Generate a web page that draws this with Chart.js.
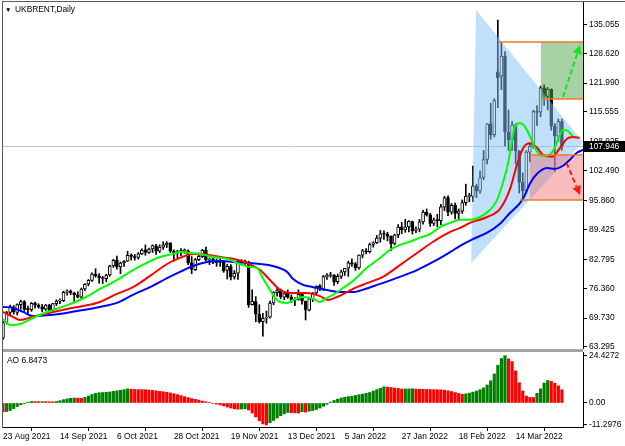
<!DOCTYPE html>
<html><head><meta charset="utf-8">
<script src="https://cdn.jsdelivr.net/npm/chart.js"></script>
<style>
html,body{margin:0;padding:0;background:#fff;width:625px;height:446px;overflow:hidden;font-family:"Liberation Sans",Arial,sans-serif;}
#cMain{position:absolute;left:0;top:0;}
#cAO{position:absolute;left:0;top:349px;}
#sep{position:absolute;left:2px;top:349px;width:581px;height:3px;background:#a4a4a4;}
#frameL{position:absolute;left:2px;top:1px;width:1px;height:427px;background:#5a5a5a;}
#frameT{position:absolute;left:2px;top:1px;width:623px;height:1px;background:#5a5a5a;}
#title{position:absolute;left:5px;top:4px;font-size:8.4px;line-height:11px;color:#000;white-space:nowrap;}
#title .tri{font-size:6.5px;display:inline-block;width:10px;}
#aolabel{position:absolute;left:7px;top:355px;font-size:8.4px;line-height:11px;color:#000;white-space:nowrap;}
</style></head>
<body>
<canvas id="cMain" width="625" height="352"></canvas>
<canvas id="cAO" width="625" height="97"></canvas>
<div id="sep"></div><div id="frameL"></div><div id="frameT"></div>
<div id="title"><span class="tri">▼</span>UKBRENT,Daily</div>
<div id="aolabel">AO 6.8473</div>
<script>
// ---------- data (bar index 0 = 23 Aug 2021) ----------
const tickIndex = [0, 16, 32, 48, 64, 80, 96, 112, 128, 144];
const tickLabels = ["23 Aug 2021","14 Sep 2021","6 Oct 2021","28 Oct 2021","19 Nov 2021","13 Dec 2021","5 Jan 2022","27 Jan 2022","18 Feb 2022","14 Mar 2022"];
const priceTicks = [135.055,128.620,121.990,115.555,108.925,102.490,95.860,89.425,82.795,76.360,69.730,63.295];
const aoTicks = [24.4272, 0, -11.2976];
const aoTickLabels = ["24.4272","0.00","-11.2976"];
const currentPrice = 107.946;

const open = [65.3,68.8,71.0,72.2,71.0,72.7,73.4,71.6,71.6,73.0,72.6,72.2,71.7,72.6,71.5,72.9,73.5,73.6,75.5,75.7,
75.3,74.9,74.4,76.2,77.3,78.1,79.5,79.1,78.6,78.5,79.3,81.3,82.6,81.1,82.0,82.4,83.7,83.4,83.2,84.0,
84.9,84.3,85.1,85.8,84.6,85.5,86.0,86.4,84.6,84.3,84.4,84.7,84.7,82.0,80.5,82.7,83.4,84.8,82.6,82.9,
82.2,82.1,82.4,80.3,81.2,78.9,79.7,82.3,82.2,82.2,72.7,73.4,70.6,68.9,69.7,69.9,73.1,75.4,75.8,74.4,
75.2,74.4,73.7,73.9,75.0,73.5,71.5,74.0,75.3,76.9,76.1,78.9,79.2,79.3,77.8,79.0,80.0,80.8,82.0,81.8,
80.9,83.7,84.7,84.5,86.1,86.5,87.5,88.4,88.4,87.9,86.3,88.2,90.0,89.3,90.0,91.2,89.2,89.5,91.1,93.3,
92.7,90.8,91.6,91.4,94.4,96.5,93.3,94.8,93.0,93.5,95.4,96.8,96.8,99.1,98.0,101.0,105.0,112.9,110.5,124.5,
123.5,128.0,111.1,109.3,112.7,106.9,99.9,98.0,106.6,107.9,115.6,115.5,120.9,119.0,120.6,112.5,110.2,113.4];
const high = [69.0,71.2,72.6,72.5,72.9,73.7,73.6,72.4,73.2,73.3,72.9,72.8,72.8,72.8,73.0,73.8,74.0,75.7,76.0,76.0,
75.5,75.6,76.4,77.4,78.3,79.8,80.7,79.6,79.0,79.5,81.5,82.8,83.5,82.2,82.5,84.6,84.0,83.9,84.3,85.1,
86.0,85.3,86.0,86.1,86.0,86.7,86.7,86.5,84.9,84.8,85.2,85.1,84.9,83.4,83.0,84.2,85.0,85.5,83.1,83.1,
82.9,83.0,82.5,81.7,81.6,80.3,82.4,82.7,82.6,82.4,76.0,74.5,72.7,70.8,71.3,73.5,75.6,76.3,76.2,75.5,
76.0,74.9,74.3,76.0,75.2,73.5,74.1,75.4,76.9,77.2,79.2,79.6,79.9,79.4,79.5,80.4,80.8,82.4,82.9,82.1,
83.8,85.0,85.2,86.4,86.7,88.1,89.2,89.1,88.8,88.0,88.4,90.5,91.0,91.7,91.4,91.3,90.0,91.7,93.7,94.0,
93.0,92.0,92.8,95.0,96.8,96.9,95.2,95.3,94.0,96.0,99.5,97.5,103.5,99.5,102.4,107.0,113.0,117.5,118.5,136.0,
131.1,129.0,116.0,113.5,113.0,107.0,102.0,107.0,108.5,116.0,117.0,121.3,121.6,121.0,120.7,113.0,114.0,114.0];
const low = [65.0,68.4,70.5,70.6,70.4,71.7,71.2,70.5,71.2,71.9,71.9,71.1,71.4,71.0,71.2,72.5,72.9,73.4,74.8,74.9,
73.3,74.2,74.1,75.8,76.9,77.9,78.8,77.5,77.4,77.8,79.0,81.0,80.6,79.6,81.2,82.3,82.6,82.6,82.8,83.8,
83.7,84.1,84.3,83.9,84.3,85.0,85.4,84.3,82.4,83.1,83.6,84.1,81.6,79.6,80.3,82.5,83.2,82.4,81.6,81.8,
81.2,81.2,79.9,78.4,78.2,78.4,78.3,81.5,81.6,72.1,72.6,68.9,68.6,65.7,68.6,69.7,72.7,74.6,74.0,73.8,
74.1,73.2,72.5,73.7,72.8,69.3,71.3,73.4,75.0,75.8,75.9,78.3,78.8,77.0,77.4,78.5,79.2,79.0,81.2,80.3,
80.6,83.1,84.0,84.2,85.5,86.3,86.6,87.2,86.9,84.7,86.0,87.6,88.5,88.8,88.9,88.4,88.7,88.9,90.6,92.4,
90.1,90.3,90.0,90.5,93.6,92.5,92.8,91.8,91.5,93.0,94.8,95.6,95.6,96.5,97.5,100.5,104.0,109.5,110.0,116.5,
120.5,108.0,107.0,107.0,104.0,97.5,96.0,97.5,104.5,107.5,112.5,114.5,117.0,116.0,111.5,102.3,109.0,107.0];
const close = [68.75,71.05,72.25,71.07,72.70,73.41,71.63,71.59,73.03,72.61,72.22,71.69,72.60,71.45,72.92,73.51,73.60,75.46,75.67,75.34,
74.92,74.36,76.19,77.25,78.09,79.53,79.09,78.64,78.52,79.28,81.26,82.56,81.08,81.95,82.39,83.65,83.42,83.18,84.00,84.86,
84.33,85.08,85.82,84.61,85.53,85.99,86.40,84.58,84.32,84.38,84.71,84.72,81.99,80.54,82.74,83.43,84.78,82.64,82.87,82.17,
82.05,82.43,80.28,81.24,78.89,79.70,82.31,82.25,82.22,72.72,73.44,70.57,68.87,69.67,69.88,73.08,75.44,75.82,74.42,75.15,
74.39,73.70,73.88,75.02,73.52,71.52,73.98,75.29,76.85,76.14,78.94,79.23,79.32,77.78,78.98,80.00,80.80,81.99,81.75,80.87,
83.72,84.67,84.47,86.06,86.48,87.51,88.44,88.38,87.89,86.27,88.20,89.96,89.34,90.03,91.21,89.16,89.47,91.11,93.27,92.69,
90.78,91.55,91.41,94.44,96.48,93.28,94.81,92.97,93.54,95.39,96.84,96.84,99.08,97.93,100.99,104.97,112.93,110.46,118.11,123.21,
127.98,111.14,109.33,112.67,106.90,99.91,98.02,106.64,107.93,115.62,115.48,120.90,119.03,120.65,112.48,110.23,113.45,107.946];

const aoValues = [-4.6,-4.4,-3.9,-2.9,-1.8,-0.9,-0.2,0.4,0.8,0.75,0.7,0.72,0.68,0.65,0.6,0.8,1.2,1.7,2.1,2.4,
2.6,2.5,2.4,2.9,3.6,4.4,5.0,5.3,5.4,5.5,5.7,6.0,6.3,6.6,6.9,7.3,7.1,7.0,6.95,6.9,
6.85,6.7,6.5,6.3,6.0,5.8,5.5,5.2,4.8,4.3,3.8,3.3,2.8,2.3,1.9,1.5,1.0,0.6,0.2,-0.2,
-0.6,-1.0,-1.5,-2.1,-2.6,-3.0,-3.2,-3.1,-3.0,-3.6,-5.2,-7.2,-9.2,-10.8,-11.2976,-10.2,-9.0,-7.8,-6.6,-5.6,
-4.9,-5.0,-5.1,-5.2,-4.5,-4.7,-4.2,-3.9,-3.4,-2.6,-1.7,-0.7,0.5,1.3,2.0,2.6,3.0,3.3,3.5,3.9,
4.3,4.6,5.0,5.4,6.2,6.9,7.6,8.4,8.2,8.0,7.7,7.5,7.2,7.25,7.3,7.35,7.2,7.1,7.05,7.0,
6.95,6.9,6.85,6.8,6.6,6.3,5.9,5.4,4.9,4.5,4.7,5.1,5.6,6.2,6.9,7.8,9.3,11.5,15.0,19.5,
23.0,24.4272,22.8,21.4,16.6,10.5,6.2,3.6,2.9,2.8,5.0,7.3,10.3,11.6,11.2,10.2,8.9,6.8473];

// Alligator lines (bar index, price)
const lipsX = [0,2,4.8,8.4,13.2,18,21.6,24.4,27.2,30,32.9,36.5,40.4,44.1,47.8,49.7,52.5,55.3,59,62.9,66.6,69.4,71.3,73,75,76.4,77.8,79.8,81.5,84.3,87.1,89,91,92.7,95.5,98.3,102.2,105.9,108.7,111.5,114.3,117.1,119.9,122.8,125.6,128.4,131.2,134,136.8,138.8,140.4,141.9,143,143.8,145.2,146.6,148,149.4,150.8,152.8,154.5,155.9,157.3,158.7,160];
const lipsY = [69.5,68.2,68.4,69.75,71.3,72.6,73.75,74.9,76.2,77.3,78.6,80.4,82.0,83.3,84.0,84.4,84.2,84.0,83.3,82.9,81.75,81.1,80.9,78.6,76.0,74.2,73.3,73.1,73.75,74.4,74.0,73.3,74.2,74.9,76.4,78.0,80.9,83.1,84.9,86.0,86.7,87.6,88.4,90.0,90.9,91.6,91.6,92.2,93.8,96.0,99.8,104.3,109.4,112.3,113.1,112.3,110.2,107.6,106.0,105.8,106.9,109.4,111.6,111.3,110.2];
const teethX = [0,2.8,4.8,8.4,13.2,18,22.5,27.2,32,36.5,41.3,46.1,49.7,53.4,57.3,61,64.6,68.5,72.2,75,77.8,80.6,85.4,89,91.3,93.8,96.6,99.4,102.2,106.7,111.5,116.3,120.8,125.6,128.4,131.2,136,139.6,142.4,144.4,146.1,148,150,151.7,154.2,156.5,158.4,160.1,162];
const teethY = [71.1,70.0,69.3,70.0,70.9,71.75,72.4,73.3,75.1,76.6,79.1,81.75,83.1,84.0,83.8,83.3,82.9,82.0,80.4,78.2,76.0,75.3,75.3,74.6,73.75,74.4,75.5,76.6,77.5,78.9,81.5,84.2,86.7,88.9,89.8,90.9,92.2,94.0,98.4,103.9,107.5,108.6,107.6,106.0,105.6,107.6,109.6,110.0,109.8];
const jawX = [0,2.8,5.6,8.4,13.2,18,22.5,27.2,32,36.5,41.3,46.1,49.7,53.4,57.3,61,64.6,68.5,72.2,75.8,79.8,81.5,84.3,87.1,91,94.7,98.3,101.7,105.1,111.5,116.3,120.8,125.6,128.4,132,136,139.6,142.4,145.2,146.6,148,150,152.8,155,157.3,159.3,161.2,162.9,165];
const jawY = [72.2,72.0,71.1,70.2,70.4,70.9,71.5,72.2,73.1,74.9,76.6,78.6,80.0,81.3,82.2,82.4,82.2,82.0,81.75,81.3,80.0,78.4,77.1,76.6,75.95,75.5,75.5,76.2,77.1,78.9,80.4,82.2,84.4,85.8,87.3,88.7,90.7,93.1,95.3,97.1,99.6,101.8,103.1,102.9,103.6,105.0,106.5,107.1,107.8];

// drawn objects, in (bar index, price)
const triI = [132.9, 162.9, 131.5];
const triP = [138.25, 108.9, 81.98];
const greenBoxI = [151.1, 164], greenBoxP = [118.45, 131.13];
const redBoxI = [148.0, 164], redBoxP = [96.0, 106.0];
const levelP = [131.13, 118.45, 106.0, 96.0];
const levelStartI = [139.3, 151.1, 148.0, 145.2];
const upArrowI = [157.3, 162.1], upArrowP = [118.9, 130.46];
const downArrowI = [158.3, 162.1], downArrowP = [104.2, 97.1];

// ---------- view ----------
const X_MIN = -0.28, X_MAX = 162.92;
const Y_MIN = 63.07, Y_MAX = 140.01;
const AO_MIN = -12.40, AO_MAX = 26.34;

Chart.defaults.font.family = '"Liberation Sans", Arial, sans-serif';
Chart.defaults.font.size = 8.4;
Chart.defaults.color = '#000';

const idx = close.map((c, i) => i);

function arrow(ctx, x0, y0, x1, y1, color) {
  const a = Math.atan2(y1 - y0, x1 - x0), head = 9, hw = 4.5;
  const bx = x1 - head * Math.cos(a), by = y1 - head * Math.sin(a);
  ctx.strokeStyle = color; ctx.lineWidth = 2; ctx.setLineDash([5, 3]);
  ctx.beginPath(); ctx.moveTo(x0, y0); ctx.lineTo(bx, by); ctx.stroke();
  ctx.setLineDash([]); ctx.fillStyle = color;
  ctx.beginPath(); ctx.moveTo(x1, y1);
  ctx.lineTo(bx + hw * Math.sin(a), by - hw * Math.cos(a));
  ctx.lineTo(bx - hw * Math.sin(a), by + hw * Math.cos(a));
  ctx.closePath(); ctx.fill();
}

const drawings = {
  id: 'drawings',
  beforeDatasetsDraw(chart) {
    const {ctx, chartArea: a, scales: {y}} = chart;
    const py = Math.round(y.getPixelForValue(currentPrice)) + 0.5;
    ctx.save(); ctx.strokeStyle = '#c4c4c4'; ctx.lineWidth = 1;
    ctx.beginPath(); ctx.moveTo(a.left, py); ctx.lineTo(a.right, py); ctx.stroke(); ctx.restore();
  },
  afterDatasetDraw(chart, args) {
    if (chart.data.datasets[args.index].label !== 'bodies') return;
    const {ctx, chartArea: a, scales: {x, y}} = chart;
    ctx.save();
    ctx.beginPath(); ctx.rect(a.left, a.top, a.right - a.left, a.bottom - a.top); ctx.clip();
    ctx.fillStyle = 'rgba(130,192,245,0.5)';
    ctx.beginPath();
    triI.forEach((v, k) => { const X = x.getPixelForValue(v), Y = y.getPixelForValue(triP[k]); k ? ctx.lineTo(X, Y) : ctx.moveTo(X, Y); });
    ctx.closePath(); ctx.fill();
    const box = (I, P, col) => {
      const x0 = x.getPixelForValue(I[0]), x1 = x.getPixelForValue(I[1]);
      const y0 = y.getPixelForValue(P[1]), y1 = y.getPixelForValue(P[0]);
      ctx.fillStyle = col; ctx.fillRect(x0, y0, x1 - x0, y1 - y0);
    };
    box(redBoxI, redBoxP, 'rgba(240,110,110,0.45)');
    box(greenBoxI, greenBoxP, 'rgba(78,168,78,0.5)');
    ctx.restore();
  },
  afterDatasetsDraw(chart) {
    const {ctx, chartArea: a, scales: {x, y}} = chart;
    ctx.save();
    ctx.beginPath(); ctx.rect(a.left, a.top, a.right - a.left, a.bottom - a.top); ctx.clip();
    ctx.strokeStyle = '#f07a22'; ctx.lineWidth = 1.5;
    levelP.forEach((p, k) => {
      const py = y.getPixelForValue(p);
      ctx.beginPath(); ctx.moveTo(x.getPixelForValue(levelStartI[k]), py); ctx.lineTo(a.right, py); ctx.stroke();
    });
    arrow(ctx, x.getPixelForValue(upArrowI[0]), y.getPixelForValue(upArrowP[0]), x.getPixelForValue(upArrowI[1]), y.getPixelForValue(upArrowP[1]), '#19e019');
    arrow(ctx, x.getPixelForValue(downArrowI[0]), y.getPixelForValue(downArrowP[0]), x.getPixelForValue(downArrowI[1]), y.getPixelForValue(downArrowP[1]), '#ff1a1a');
    ctx.restore();
  },
  afterDraw(chart) {
    const {ctx, chartArea: a, scales: {y}} = chart;
    const py = y.getPixelForValue(currentPrice);
    ctx.save();
    ctx.fillStyle = '#000';
    ctx.fillRect(a.right + 1, Math.round(py) - 5, chart.width - a.right - 1, 11);
    ctx.fillStyle = '#fff'; ctx.font = '8.4px "Liberation Sans", Arial, sans-serif';
    ctx.textBaseline = 'middle'; ctx.textAlign = 'left';
    ctx.fillText(currentPrice.toFixed(3), a.right + 6, Math.round(py) + 0.5);
    ctx.restore();
  }
};

const lineDs = (label, X, Y, color, order) => ({
  type: 'line', label, data: X.map((v, k) => ({x: v, y: Y[k]})),
  borderColor: color, borderWidth: 2, pointRadius: 0, cubicInterpolationMode: 'monotone', order, clip: 0
});

new Chart(document.getElementById('cMain'), {
  type: 'bar',
  data: {datasets: [
    lineDs('lips', lipsX, lipsY, '#00ff00', 1),
    lineDs('teeth', teethX, teethY, '#ff0000', 1.5),
    lineDs('jaw', jawX, jawY, '#0000ff', 1.8),
    {type: 'bar', label: 'bodies', data: idx.map(i => ({x: i, y: [open[i], close[i]]})),
     backgroundColor: idx.map(i => close[i] >= open[i] ? '#ffffff' : '#000000'),
     borderColor: '#000', borderWidth: 1, borderSkipped: false, barThickness: 3, minBarLength: 1, grouped: false, order: 2},
    {type: 'bar', label: 'wicks', data: idx.map(i => ({x: i, y: [low[i], high[i]]})),
     backgroundColor: '#000', barThickness: 1, minBarLength: 1, grouped: false, order: 3}
  ]},
  options: {
    responsive: false, animation: false, devicePixelRatio: 1,
    layout: {padding: {left: 2, right: 0, top: 2, bottom: 4}},
    plugins: {legend: {display: false}, tooltip: {enabled: false}},
    scales: {
      x: {type: 'linear', min: X_MIN, max: X_MAX, offset: false, display: false},
      y: {type: 'linear', position: 'right', min: Y_MIN, max: Y_MAX,
          afterBuildTicks(s) { s.ticks = priceTicks.map(v => ({value: v})); },
          afterFit(s) { s.width = 42; s.paddingTop = 0; s.paddingBottom = 0; },
          ticks: {callback: (v, k) => priceTicks[k].toFixed(3), color: '#000', padding: 2, autoSkip: false},
          grid: {drawOnChartArea: false, drawTicks: true, tickLength: 4, tickColor: '#000', color: '#000'},
          border: {display: true, color: '#000', width: 1}}
    }
  },
  plugins: [drawings]
});

new Chart(document.getElementById('cAO'), {
  type: 'bar',
  data: {datasets: [{
    label: 'AO', data: aoValues.map((v, i) => ({x: i, y: v})),
    backgroundColor: aoValues.map((v, i) => (i > 0 && v > aoValues[i - 1]) ? '#008000' : '#ff0000'),
    barThickness: 2.5, grouped: false, borderWidth: 0
  }]},
  options: {
    responsive: false, animation: false, devicePixelRatio: 1,
    layout: {padding: {left: 2, right: 0, top: 3, bottom: 0}},
    plugins: {legend: {display: false}, tooltip: {enabled: false}},
    scales: {
      x: {type: 'linear', min: X_MIN, max: X_MAX, offset: false, position: 'bottom',
          afterBuildTicks(s) { s.ticks = tickIndex.map(v => ({value: v})); },
          afterFit(s) { s.height = 19; s.paddingLeft = 0; s.paddingRight = 0; },
          ticks: {callback: (v, k) => tickLabels[k], align: 'start', autoSkip: false, maxRotation: 0, minRotation: 0, color: '#000', padding: 1},
          grid: {drawOnChartArea: false, tickLength: 4, tickColor: '#000', color: '#000'},
          border: {display: true, color: '#000', width: 1}},
      y: {type: 'linear', position: 'right', min: AO_MIN, max: AO_MAX,
          afterBuildTicks(s) { s.ticks = aoTicks.map(v => ({value: v})); },
          afterFit(s) { s.width = 42; s.paddingTop = 0; s.paddingBottom = 0; },
          ticks: {callback: (v, k) => aoTickLabels[k], color: '#000', padding: 2, autoSkip: false},
          grid: {drawOnChartArea: false, tickLength: 4, tickColor: '#000', color: '#000'},
          border: {display: true, color: '#000', width: 1}}
    }
  }
});
</script>
</body></html>
